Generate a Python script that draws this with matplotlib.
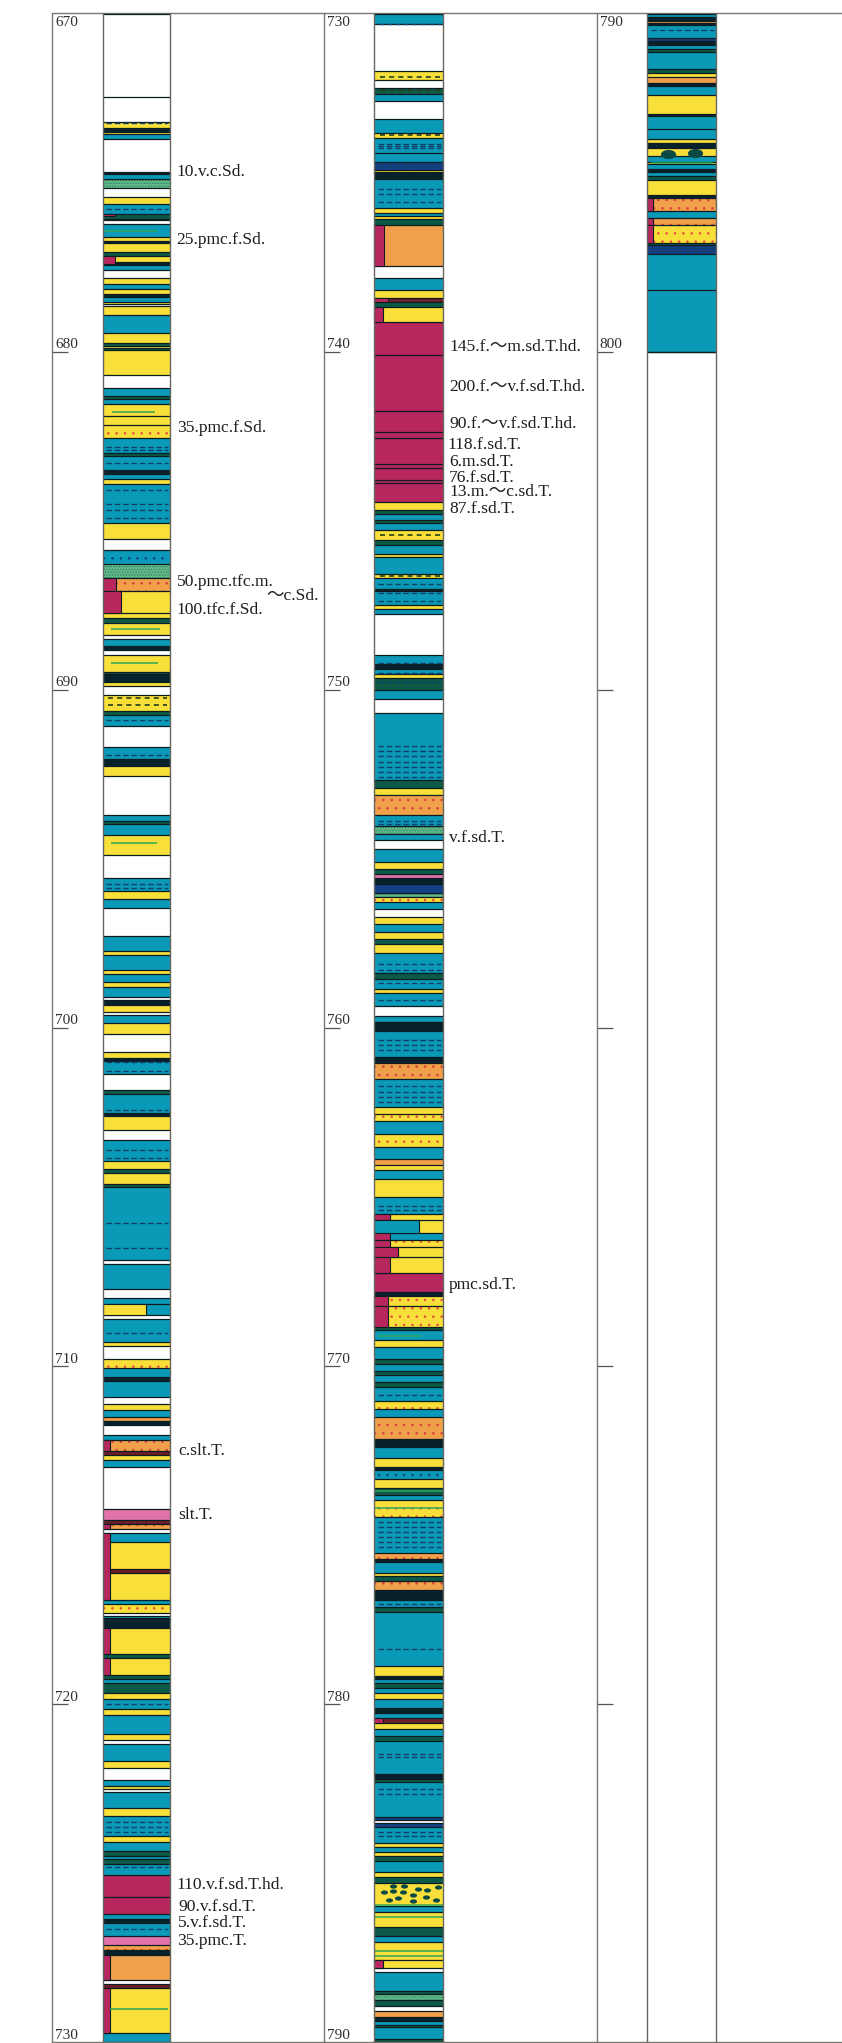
import matplotlib
matplotlib.use("Agg")
import matplotlib.pyplot as plt
from matplotlib.path import Path

W, H = 842, 2043
TOP_PX, BOT_PX = 13.5, 2042.0

# ===== Layers: (top depth in m, rock code), each one ends where the next starts =====
col1_layers = [
    (670.00, "W"), (672.48, "W"), (673.21, "Y"), (673.39, "K"), (673.50, "Y"), (673.57, "T"),
    (673.70, "W"), (674.68, "K"), (674.75, "T"), (674.91, "G"), (675.15, "W"), (675.42, "Y"),
    (675.64, "T"), (675.92, "D"), (676.07, "Y"), (676.11, "W"), (676.23, "T"), (676.61, "Y"),
    (676.73, "K"), (676.80, "Y"), (677.05, "D"), (677.18, "Y"), (677.35, "K"), (677.43, "T"),
    (677.59, "W"), (677.81, "Y"), (677.99, "T"), (678.14, "Y"), (678.30, "K"), (678.40, "T"),
    (678.53, "Y"), (678.60, "W"), (678.66, "Y"), (678.93, "T"), (679.45, "Y"), (679.76, "D"),
    (679.84, "Y"), (679.89, "D"), (679.96, "Y"), (680.70, "W"), (681.09, "T"), (681.32, "D"),
    (681.39, "T"), (681.56, "Y"), (681.91, "Y"), (682.18, "P"), (682.57, "T"), (683.00, "D"),
    (683.08, "T"), (683.51, "K"), (683.63, "T"), (683.78, "Y"), (683.91, "T"), (685.07, "Y"),
    (685.53, "W"), (685.88, "S"), (686.29, "G"), (686.69, "Q"), (687.08, "Y"), (687.72, "Y"),
    (687.87, "D"), (688.02, "Y"), (688.39, "W"), (688.49, "T"), (688.71, "K"), (688.84, "W"),
    (688.97, "Y"), (689.48, "D"), (689.53, "K"), (689.76, "Y"), (689.90, "W"), (690.17, "Y"),
    (690.63, "D"), (690.76, "T"), (691.08, "W"), (691.70, "T"), (692.04, "K"), (692.27, "Y"),
    (692.55, "W"), (693.71, "T"), (693.89, "D"), (693.98, "T"), (694.31, "Y"), (694.89, "W"),
    (695.57, "T"), (695.96, "Y"), (696.18, "T"), (696.45, "W"), (697.30, "T"), (697.73, "Y"),
    (697.85, "T"), (698.30, "Y"), (698.42, "T"), (698.65, "Y"), (698.79, "T"), (699.09, "W"),
    (699.17, "K"), (699.34, "Y"), (699.54, "W"), (699.61, "T"), (699.86, "Y"), (700.18, "W"),
    (700.73, "Y"), (700.89, "K"), (700.97, "T"), (701.38, "W"), (701.85, "D"), (701.97, "T"),
    (702.52, "K"), (702.60, "Y"), (703.01, "W"), (703.33, "T"), (703.94, "Y"), (704.17, "D"),
    (704.30, "Y"), (704.62, "D"), (704.71, "T"), (706.88, "W"), (707.00, "T"), (707.72, "W"),
    (707.99, "T"), (708.18, "T"), (708.51, "W"), (708.61, "T"), (709.30, "Y"), (709.42, "W"),
    (709.79, "P"), (710.07, "T"), (710.34, "K"), (710.45, "T"), (710.91, "W"), (711.13, "Y"),
    (711.30, "T"), (711.52, "Q"), (711.62, "K"), (711.76, "W"), (712.06, "T"), (712.19, "Q"),
    (712.52, "B"), (712.63, "Y"), (712.78, "T"), (713.00, "W"), (714.23, "I"), (714.56, "B"),
    (714.67, "Q"), (714.82, "W"), (714.95, "T"), (715.22, "Y"), (716.02, "B"), (716.14, "Y"),
    (716.94, "T"), (717.05, "P"), (717.31, "W"), (717.40, "T"), (717.47, "K"), (717.76, "Y"),
    (718.52, "D"), (718.64, "Y"), (719.13, "D"), (719.26, "T"), (719.39, "D"), (719.69, "Y"),
    (719.85, "T"), (720.15, "Y"), (720.32, "T"), (720.89, "Y"), (721.08, "W"), (721.20, "T"),
    (721.68, "Y"), (721.89, "W"), (722.25, "T"), (722.42, "Y"), (722.52, "W"), (722.60, "T"),
    (723.09, "Y"), (723.33, "T"), (723.90, "Y"), (724.09, "T"), (724.34, "D"), (724.49, "T"),
    (724.58, "D"), (724.73, "T"), (725.05, "R"), (725.70, "R"), (726.21, "T"), (726.37, "K"),
    (726.48, "T"), (726.85, "I"), (727.12, "Q"), (727.28, "K"), (727.44, "O"), (728.16, "W"),
    (728.28, "B"), (728.40, "Y"), (729.74, "T"),
]
col2_layers = [
    (730.00, "T"), (730.32, "W"), (731.70, "Y"), (731.97, "W"), (732.19, "D"), (732.37, "T"),
    (732.58, "W"), (733.11, "T"), (733.53, "Y"), (733.67, "T"), (734.12, "T"), (734.39, "N"),
    (734.62, "Y"), (734.69, "K"), (734.91, "T"), (735.76, "Y"), (735.90, "T"), (736.00, "Y"),
    (736.07, "D"), (736.26, "O"), (737.47, "W"), (737.82, "T"), (738.19, "Y"), (738.41, "B"),
    (738.53, "D"), (738.68, "Y"), (739.12, "R"), (740.09, "R"), (741.77, "R"), (742.38, "R"),
    (742.57, "R"), (743.33, "R"), (743.43, "R"), (743.79, "R"), (743.89, "R"), (744.45, "Y"),
    (744.69, "D"), (744.79, "T"), (744.99, "D"), (745.07, "T"), (745.29, "Y"), (745.58, "D"),
    (745.73, "T"), (745.98, "Y"), (746.07, "T"), (746.57, "Y"), (746.69, "T"), (747.01, "K"),
    (747.09, "T"), (747.50, "Y"), (747.60, "T"), (747.75, "W"), (748.98, "T"), (749.25, "K"),
    (749.38, "T"), (749.55, "Y"), (749.65, "D"), (750.00, "T"), (750.29, "W"), (750.69, "T"),
    (752.68, "D"), (752.90, "Y"), (753.13, "Q"), (753.72, "T"), (754.04, "G"), (754.28, "T"),
    (754.46, "W"), (754.70, "T"), (755.10, "Y"), (755.30, "D"), (755.44, "I"), (755.56, "K"),
    (755.76, "N"), (756.02, "G"), (756.13, "P"), (756.28, "T"), (756.48, "W"), (756.73, "Y"),
    (756.94, "T"), (757.17, "Y"), (757.37, "D"), (757.51, "Y"), (757.79, "T"), (758.38, "D"),
    (758.55, "T"), (758.85, "Y"), (758.96, "T"), (759.37, "W"), (759.66, "T"), (759.83, "K"),
    (760.10, "T"), (760.87, "K"), (761.05, "Q"), (761.51, "T"), (762.33, "Y"), (762.54, "P"),
    (762.77, "T"), (763.14, "P"), (763.53, "T"), (763.88, "Q"), (764.07, "Y"), (764.22, "T"),
    (764.47, "Y"), (765.01, "T"), (765.50, "Y"), (765.70, "Y"), (766.08, "T"), (766.29, "P"),
    (766.49, "Y"), (766.78, "Y"), (767.26, "R"), (767.82, "K"), (767.94, "P"), (768.22, "P"),
    (768.86, "D"), (768.95, "T"), (769.25, "Y"), (769.45, "T"), (769.79, "D"), (769.94, "T"),
    (770.14, "D"), (770.26, "T"), (770.48, "D"), (770.63, "T"), (771.03, "P"), (771.27, "T"),
    (771.50, "Q"), (772.16, "K"), (772.41, "T"), (772.73, "Y"), (772.98, "K"), (773.08, "S"),
    (773.34, "Y"), (773.61, "D"), (773.81, "T"), (773.96, "P"), (774.46, "T"), (775.53, "Q"),
    (775.71, "K"), (775.81, "T"), (776.12, "Y"), (776.23, "D"), (776.37, "Q"), (776.63, "K"),
    (776.92, "T"), (777.14, "D"), (777.29, "T"), (778.87, "Y"), (779.16, "K"), (779.26, "T"),
    (779.39, "D"), (779.53, "T"), (779.68, "Y"), (779.84, "T"), (780.12, "K"), (780.26, "T"),
    (780.43, "B"), (780.57, "Y"), (780.74, "T"), (780.94, "D"), (781.11, "T"), (782.07, "K"),
    (782.21, "D"), (782.32, "T"), (783.35, "N"), (783.43, "W"), (783.53, "N"), (783.65, "T"),
    (784.12, "Y"), (784.24, "T"), (784.39, "Y"), (784.51, "D"), (784.65, "T"), (784.98, "Y"),
    (785.13, "D"), (785.31, "Y"), (785.97, "T"), (786.16, "Y"), (786.61, "D"), (786.85, "T"),
    (787.03, "Y"), (787.57, "Y"), (787.82, "W"), (787.94, "T"), (788.48, "D"), (788.58, "G"),
    (788.76, "D"), (788.93, "W"), (789.07, "O"), (789.25, "K"), (789.37, "T"), (789.49, "D"),
    (789.57, "T"), (789.91, "D"),
]
col3_layers = [
    (790.00, "T"), (790.10, "K"), (790.22, "O"), (790.28, "K"), (790.35, "T"), (790.71, "N"),
    (790.81, "K"), (790.94, "T"), (791.04, "D"), (791.13, "T"), (791.65, "D"), (791.75, "Y"),
    (791.89, "O"), (792.07, "K"), (792.15, "T"), (792.42, "Y"), (792.96, "K"), (793.02, "T"),
    (793.43, "T"), (793.70, "Y"), (793.83, "K"), (793.99, "Y"), (794.22, "T"), (794.39, "Y"),
    (794.46, "T"), (794.59, "K"), (794.69, "T"), (794.81, "D"), (794.93, "Y"), (795.37, "K"),
    (795.47, "Q"), (795.84, "T"), (796.04, "Q"), (796.26, "P"), (796.80, "D"), (796.86, "N"),
    (797.10, "T"), (798.17, "T"), (800.01, "W"),
]

# ===== Partial-width blocks from the strip's left side: (top, bottom, width, code) =====
col1_sides = [
    (675.92, 676.00, 0.19, "R"), (677.18, 677.40, 0.19, "R"), (686.69, 687.08, 0.20, "R"),
    (687.08, 687.72, 0.27, "R"), (708.18, 708.51, 0.64, "Y"), (712.19, 712.52, 0.11, "R"),
    (714.67, 714.82, 0.11, "R"), (714.95, 716.94, 0.11, "R"), (717.76, 718.52, 0.11, "R"),
    (718.64, 719.13, 0.11, "R"), (727.44, 728.16, 0.11, "R"), (728.40, 729.74, 0.11, "R"),
]
col2_sides = [
    (736.26, 737.47, 0.14, "R"), (738.41, 738.53, 0.20, "R"), (738.68, 739.12, 0.13, "R"),
    (765.50, 765.70, 0.23, "R"), (765.70, 766.08, 0.65, "T"), (766.08, 766.29, 0.23, "R"),
    (766.29, 766.49, 0.23, "R"), (766.49, 766.78, 0.35, "R"), (766.78, 767.26, 0.23, "R"),
    (767.94, 768.22, 0.20, "R"), (768.22, 768.86, 0.20, "R"), (780.43, 780.57, 0.12, "R"),
    (787.57, 787.82, 0.12, "R"),
]
col3_sides = [
    (795.47, 795.84, 0.08, "R"), (796.04, 796.26, 0.08, "R"), (796.26, 796.80, 0.08, "R"),
]

# ===== Dashed mudstone seams, wavy seams and green streaks =====
col1_dashes = [
    673.23, 675.79, 682.82, 682.90, 683.29, 684.10, 684.50, 684.69, 684.92, 690.91, 691.94,
    695.74, 695.87, 701.02, 701.28, 702.43, 703.61, 703.85, 705.78, 706.51, 709.02, 720.00,
    723.50, 723.65, 723.79, 724.83, 726.66,
]
col2_dashes = [
    730.32, 733.85, 733.93, 733.99, 734.44, 734.54, 735.18, 735.35, 735.59, 746.88, 747.14,
    747.38, 749.21, 749.51, 749.77, 751.68, 751.81, 751.95, 752.13, 752.29, 752.44, 752.58,
    753.87, 753.98, 758.11, 758.28, 758.68, 759.19, 760.37, 760.52, 760.67, 761.71, 761.90,
    762.05, 762.20, 765.26, 765.40, 770.86, 774.63, 774.77, 774.92, 775.07, 775.22, 775.37,
    777.04, 778.37, 781.48, 781.58, 782.52, 782.66, 783.80, 783.90,
]
col3_dashes = [790.50, 790.76, 796.95, 797.02]
col1_waves = [690.26, 690.44]
col2_waves = [731.87, 732.27, 733.60, 745.43, 746.64]
col3_waves = []
col1_greens = [
    (676.44, 0.00, 0.80), (681.80, 0.14, 0.78), (688.22, 0.12, 0.85), (689.21, 0.12, 0.82),
    (694.53, 0.12, 0.80), (729.02, 0.11, 0.97),
]
col2_greens = [
    (769.11, 0.06, 0.68), (773.70, 0.00, 1.00), (774.20, 0.00, 1.00), (785.94, 0.00, 1.00),
    (786.30, 0.00, 1.00), (787.30, 0.00, 1.00), (787.45, 0.00, 1.00),
]
col3_greens = [(794.42, 0.05, 0.95)]

# dark nodules in the conglomerate beds: (position across strip, depth)
col2_blob_x = [0.14, 0.27, 0.27, 0.43, 0.42, 0.56, 0.64, 0.76, 0.92, 0.21, 0.35, 0.56, 0.75, 0.90]
col2_blob_d = [785.57, 785.39, 785.52, 785.40, 785.57, 785.64, 785.47, 785.49, 785.42, 785.80,
               785.74, 785.84, 785.72, 785.79]
col3_blob_x = [0.30, 0.70]
col3_blob_d = [794.16, 794.12]

# ===== Text =====
col1_labels = [
    ("10.v.c.Sd.", 1.10, 674.68), ("25.pmc.f.Sd.", 1.10, 676.69), ("35.pmc.f.Sd.", 1.10, 682.26),
    ("50.pmc.tfc.m.", 1.10, 686.83), ("～c.Sd.", 2.43, 687.24), ("100.tfc.f.Sd.", 1.10, 687.63),
    ("c.slt.T.", 1.12, 712.53), ("slt.T.", 1.12, 714.41), ("110.v.f.sd.T.hd.", 1.10, 725.35),
    ("90.v.f.sd.T.", 1.12, 726.02), ("5.v.f.sd.T.", 1.12, 726.49), ("35.pmc.T.", 1.10, 727.00),
]
col2_labels = [
    ("145.f.～m.sd.T.hd.", 1.09, 739.86), ("200.f.～v.f.sd.T.hd.", 1.09, 741.05),
    ("90.f.～v.f.sd.T.hd.", 1.09, 742.15), ("118.f.sd.T.", 1.07, 742.75), ("6.m.sd.T.", 1.09, 743.26),
    ("76.f.sd.T.", 1.09, 743.73), ("13.m.～c.sd.T.", 1.09, 744.15), ("87.f.sd.T.", 1.09, 744.65),
    ("v.f.sd.T.", 1.09, 754.39), ("pmc.sd.T.", 1.09, 767.60),
]
col3_labels = []
col1_ticks = [680, 690, 700, 710, 720]
col2_ticks = [740, 750, 760, 770, 780]
col3_ticks = [800, 810, 820, 830, 840]
col1_depth_text = [670, 680, 690, 700, 710, 720, 730]
col2_depth_text = [730, 740, 750, 760, 770, 780, 790]
col3_depth_text = [790, 800]

# ===== Styles =====
rock_color = {
    "W": "#ffffff", "T": "#0a9ab8", "Y": "#f8df3a", "O": "#f0a04a", "Q": "#f0a04a", "P": "#f8df3a",
    "G": "#62b98a", "R": "#b8265e", "I": "#e272aa", "K": "#07222c", "D": "#0b5a48", "B": "#6c1f2a",
    "N": "#123f86", "S": "#0a9ab8",
}
rock_hatch = {"P": ("..", "#e8503a"), "Q": ("..", "#d8403a"), "S": ("..", "#123f86"), "G": ("......", "#2f7f5c")}
LINE = "#0c1c20"
AXIS = "#777772"
plt.rcParams["hatch.linewidth"] = 0.6
plt.rcParams["font.family"] = ["Liberation Serif", "Noto Sans CJK JP", "DejaVu Serif"]

blob = Path.unit_circle().transformed(matplotlib.transforms.Affine2D().scale(1.0, 0.6))


def draw_column(ax, layers, end, sides, dashes, waves, greens, blob_x, blob_d, blob_size, labels, ticks, depth_text):
    tops = [t for t, _ in layers]
    codes = [c for _, c in layers]
    bottoms = tops[1:] + [end]
    for top, bottom, code in zip(tops, bottoms, codes):
        ax.barh(top, 1, height=bottom - top, left=0, align="edge", color=rock_color[code], linewidth=0, zorder=2)
        if code in rock_hatch:
            ax.barh(top, 1, height=bottom - top, left=0, align="edge", facecolor="none",
                    hatch=rock_hatch[code][0], edgecolor=rock_hatch[code][1], linewidth=0, zorder=2.1)
        ax.hlines(top, 0, 1, color=LINE, linewidth=0.9, zorder=3)
    ax.hlines(end, 0, 1, color=LINE, linewidth=0.9, zorder=3)

    for top, bottom, width, code in sides:
        ax.barh(top, width, height=bottom - top, left=0, align="edge", color=rock_color[code],
                edgecolor=LINE, linewidth=0.8, zorder=4)

    ax.hlines(dashes, 0.05, 0.97, color="#12406a", linewidth=1.0, linestyles=(0, (4, 2)), zorder=5)
    ax.hlines(waves, 0.08, 0.95, color="#22401c", linewidth=1.2, linestyles=(0, (3, 2.5)), zorder=5)
    for depth, x0, x1 in greens:
        ax.hlines(depth, x0, x1, color="#2fa858", linewidth=1.1, zorder=5)
    ax.scatter(blob_x, blob_d, s=blob_size, marker=blob, color="#0b4a44", linewidth=0, zorder=5)

    # strip borders
    ax.axvline(0, color="#66665f", linewidth=1.0, zorder=6)
    ax.axvline(1, color="#66665f", linewidth=1.0, zorder=6)

    ax.set_yticks(ticks)
    ax.set_yticklabels([])
    ax.set_xticks([])
    ax.tick_params(axis="y", direction="in", length=11.5, width=0.9, color="#555550")

    for text, x, y in labels:
        ax.text(x, y, text, ha="left", va="center", fontsize=12.6, color="#1c1e20")
    for d in depth_text:
        y = d + 0.26 if d == depth_text[0] else d - 0.20
        ax.text(0.012, y, str(d), transform=ax.get_yaxis_transform(), ha="left", va="center",
                fontsize=11, color="#2e2e2c")


fig = plt.figure(figsize=(W / 100, H / 100), dpi=100, facecolor="white")

columns = [
    # px of column's left edge, px of next column, strip's px left, strip's px right
    (52.0, 324.0, 102.7, 170.0, 670, 730, col1_layers, 730.0, col1_sides, col1_dashes, col1_waves, col1_greens,
     [], [], 14, col1_labels, col1_ticks, col1_depth_text),
    (324.0, 596.7, 374.3, 443.0, 730, 790, col2_layers, 790.0, col2_sides, col2_dashes, col2_waves, col2_greens,
     col2_blob_x, col2_blob_d, 26, col2_labels, col2_ticks, col2_depth_text),
    (596.7, 842.0, 647.3, 716.0, 790, 850, col3_layers, 800.01, col3_sides, col3_dashes, col3_waves, col3_greens,
     col3_blob_x, col3_blob_d, 120, col3_labels, col3_ticks, col3_depth_text),
]

for left, right, s0, s1, d0, d1, layers, end, sides, dashes, waves, greens, bx, bd, bs, labels, ticks, dtext in columns:
    ax = fig.add_axes([left / W, 1 - BOT_PX / H, (right - left) / W, (BOT_PX - TOP_PX) / H])
    ax.set_xlim((left - s0) / (s1 - s0), (right - s0) / (s1 - s0))
    ax.set_ylim(d1, d0)
    ax.set_facecolor("none")
    ax.spines["right"].set_visible(False)
    for name in ["left", "top", "bottom"]:
        ax.spines[name].set_color(AXIS)
        ax.spines[name].set_linewidth(1.0)
    draw_column(ax, layers, end, sides, dashes, waves, greens, bx, bd, bs, labels, ticks, dtext)

fig.savefig("out.png", dpi=100)
